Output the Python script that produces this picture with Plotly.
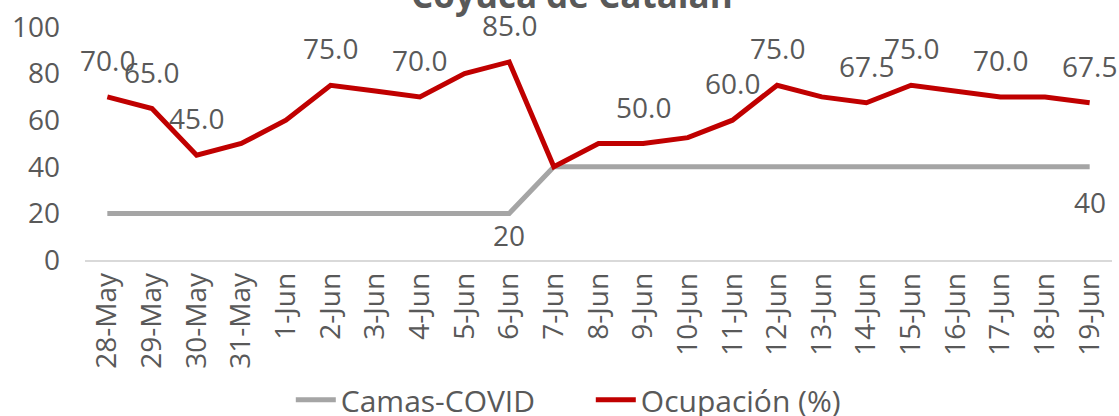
import plotly.graph_objects as go

dates = ["28-May", "29-May", "30-May", "31-May", "1-Jun", "2-Jun", "3-Jun", "4-Jun",
         "5-Jun", "6-Jun", "7-Jun", "8-Jun", "9-Jun", "10-Jun", "11-Jun", "12-Jun",
         "13-Jun", "14-Jun", "15-Jun", "16-Jun", "17-Jun", "18-Jun", "19-Jun"]
camas = [20, 20, 20, 20, 20, 20, 20, 20, 20, 20, 40, 40, 40, 40, 40, 40,
         40, 40, 40, 40, 40, 40, 40]
ocupacion = [70, 65, 45, 50, 60, 75, 72.5, 70, 80, 85, 40, 50, 50, 52.5, 60, 75,
             70, 67.5, 75, 72.5, 70, 70, 67.5]
ocup_labels = ["28-May", "29-May", "30-May", "2-Jun", "4-Jun", "6-Jun", "9-Jun",
               "11-Jun", "12-Jun", "14-Jun", "15-Jun", "17-Jun", "19-Jun"]
camas_labels = ["6-Jun", "19-Jun"]
title = "Coyuca de Catalán"

TXT = "#595959"
FONT = "Open Sans"
GRAY = "#A5A5A5"
RED = "#C00000"

fig = go.Figure()
fig.add_trace(go.Scatter(x=dates, y=camas, mode="lines", name="Camas-COVID",
                         line=dict(color=GRAY, width=5)))
fig.add_trace(go.Scatter(x=dates, y=ocupacion, mode="lines", name="Ocupación (%)",
                         line=dict(color=RED, width=5)))

ann = []
for d in ocup_labels:
    v = ocupacion[dates.index(d)]
    ann.append(dict(x=d, y=v, text=f"{v:.1f}", showarrow=False, yshift=37,
                    font=dict(family=FONT, size=28, color=TXT)))
for d, ys in zip(camas_labels, [-22, -35]):
    v = camas[dates.index(d)]
    ann.append(dict(x=d, y=v, text=f"{v}", showarrow=False, yshift=ys,
                    font=dict(family=FONT, size=28, color=TXT)))
ann.append(dict(x=0.474, xref="paper", y=1.032, yref="paper", xanchor="center",
                yanchor="bottom", text=f"<b>{title}</b>", showarrow=False,
                font=dict(family=FONT, size=35, color=TXT)))

fig.update_layout(
    width=1119, height=416,
    margin=dict(l=85, r=7, t=27, b=156, autoexpand=False),
    paper_bgcolor="white", plot_bgcolor="white",
    font=dict(family=FONT, size=28, color=TXT),
    showlegend=True,
    legend=dict(orientation="h", x=0.4925, xanchor="center",
                y=-0.6, yanchor="middle", font=dict(family=FONT, size=30, color=TXT),
                itemwidth=40, tracegroupgap=0, entrywidth=245, entrywidthmode="pixels"),
    annotations=ann,
)
fig.update_xaxes(type="category", range=[-0.5, len(dates) - 0.5], showgrid=False,
                 showline=True, linecolor="#D9D9D9",
                 linewidth=1.5, tickangle=-90, ticks="", tickmode="array",
                 tickvals=dates, ticktext=dates,
                 tickfont=dict(family=FONT, size=28, color=TXT))
fig.update_yaxes(range=[0, 100], dtick=20, showgrid=False, zeroline=False,
                 showline=False, ticks="", ticklabelstandoff=24,
                 tickfont=dict(family=FONT, size=28, color=TXT))

fig.write_html("out.html", config={"displayModeBar": False},
               post_script="document.body.style.margin='0px';document.body.style.overflow='hidden';")
